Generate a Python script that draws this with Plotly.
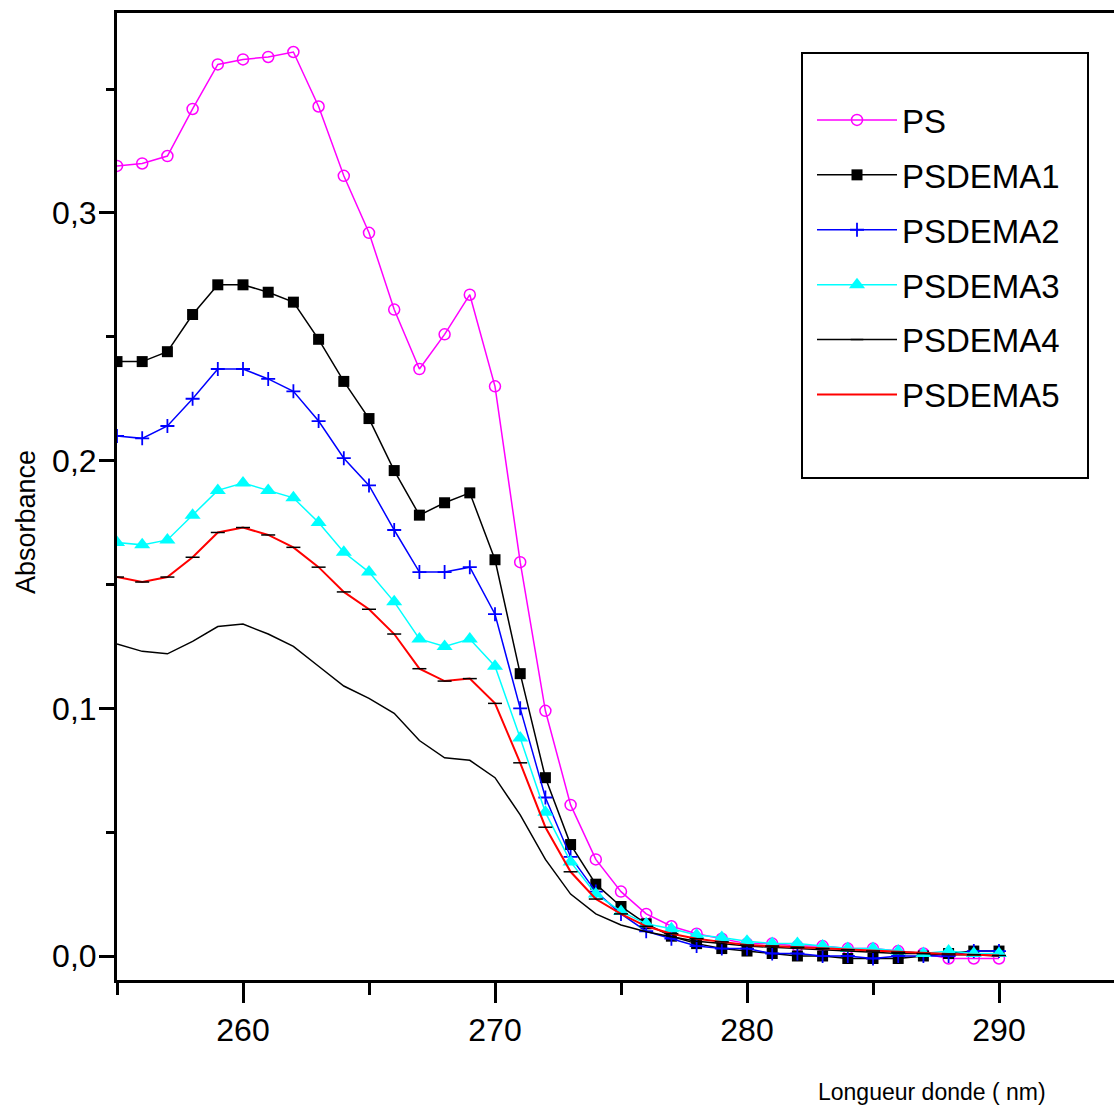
import plotly.graph_objects as go

# ---------------- data ----------------
wavelength = list(range(255, 291))

ps = [0.319, 0.320, 0.323, 0.342, 0.360, 0.362, 0.363, 0.365, 0.343, 0.315,
      0.292, 0.261, 0.237, 0.251, 0.267, 0.230, 0.159, 0.099, 0.061, 0.039,
      0.026, 0.017, 0.012, 0.009, 0.007, 0.005, 0.005, 0.004, 0.004, 0.003,
      0.003, 0.002, 0.001, -0.001, -0.001, -0.001]

psdema1 = [0.240, 0.240, 0.244, 0.259, 0.271, 0.271, 0.268, 0.264, 0.249, 0.232,
           0.217, 0.196, 0.178, 0.183, 0.187, 0.160, 0.114, 0.072, 0.045, 0.029,
           0.020, 0.013, 0.008, 0.005, 0.003, 0.002, 0.001, 0.000, 0.000, -0.001,
           -0.001, -0.001, 0.000, 0.001, 0.002, 0.002]

psdema2 = [0.210, 0.209, 0.214, 0.225, 0.237, 0.237, 0.233, 0.228, 0.216, 0.201,
           0.190, 0.172, 0.155, 0.155, 0.157, 0.138, 0.100, 0.064, 0.040, 0.026,
           0.017, 0.010, 0.007, 0.004, 0.003, 0.003, 0.001, 0.001, 0.000, 0.000,
           -0.001, 0.000, 0.000, 0.000, 0.002, 0.002]

psdema3 = [0.167, 0.166, 0.168, 0.178, 0.188, 0.191, 0.188, 0.185, 0.175, 0.163,
           0.155, 0.143, 0.128, 0.125, 0.128, 0.117, 0.088, 0.058, 0.038, 0.025,
           0.018, 0.013, 0.011, 0.0085, 0.0075, 0.006, 0.005, 0.005, 0.004, 0.003,
           0.003, 0.002, 0.001, 0.002, 0.001, 0.001]

psdema4 = [0.126, 0.123, 0.122, 0.127, 0.133, 0.134, 0.130, 0.125, 0.117, 0.109,
           0.104, 0.098, 0.087, 0.080, 0.079, 0.072, 0.057, 0.039, 0.025, 0.017,
           0.0125, 0.0098, 0.0078, 0.006, 0.005, 0.004, 0.0035, 0.003, 0.0025, 0.002,
           0.0015, 0.001, 0.001, 0.0005, 0.0005, 0.0]

psdema5 = [0.153, 0.151, 0.153, 0.161, 0.171, 0.173, 0.170, 0.165, 0.157, 0.147,
           0.140, 0.130, 0.116, 0.111, 0.112, 0.102, 0.078, 0.052, 0.034, 0.023,
           0.017, 0.012, 0.009, 0.007, 0.0057, 0.0044, 0.004, 0.0035, 0.003, 0.0025,
           0.002, 0.0015, 0.001, 0.0008, 0.0005, 0.0002]

x_ticks = [260, 270, 280, 290]
y_ticks = [0.0, 0.1, 0.2, 0.3]

# ---------------- style ----------------
FONT = "Liberation Sans, Arial, sans-serif"
MAGENTA = "#ff00ff"
BLUE = "#0000ff"
CYAN = "#00ffff"
RED = "#ff0000"
BLACK = "#000000"

fig = go.Figure()

fig.add_trace(go.Scatter(
    x=wavelength, y=ps, name="PS", mode="lines+markers",
    line=dict(color=MAGENTA, width=1.5),
    marker=dict(symbol="circle-open", size=11, color=MAGENTA, line=dict(width=1.5, color=MAGENTA)),
    legendgroup="g1"))

fig.add_trace(go.Scatter(
    x=wavelength, y=psdema1, name="PSDEMA1", mode="lines+markers",
    line=dict(color=BLACK, width=1.5),
    marker=dict(symbol="square", size=11, color=BLACK),
    legendgroup="g2"))

fig.add_trace(go.Scatter(
    x=wavelength, y=psdema2, name="PSDEMA2", mode="lines+markers",
    line=dict(color=BLUE, width=1.5),
    marker=dict(symbol="cross-thin-open", size=10, color=BLUE, line=dict(width=1.8, color=BLUE)),
    legendgroup="g3"))

fig.add_trace(go.Scatter(
    x=wavelength, y=psdema3, name="PSDEMA3", mode="lines+markers",
    line=dict(color=CYAN, width=1.5),
    marker=dict(symbol="triangle-up", size=14, color=CYAN),
    legendgroup="g4"))

fig.add_trace(go.Scatter(
    x=wavelength, y=psdema4, name="PSDEMA4", mode="lines",
    line=dict(color=BLACK, width=1.5),
    showlegend=False, legendgroup="g5"))

# legend entry for PSDEMA4 (line with small dash symbol)
fig.add_trace(go.Scatter(
    x=[None], y=[None], name="PSDEMA4", mode="lines+markers",
    line=dict(color=BLACK, width=1.5),
    marker=dict(symbol="line-ew-open", size=9, color=BLACK, line=dict(width=1.5, color=BLACK)),
    legendgroup="g5"))

fig.add_trace(go.Scatter(
    x=wavelength, y=psdema5, name="PSDEMA5", mode="lines",
    line=dict(color=RED, width=2),
    legendgroup="g6"))

fig.add_trace(go.Scatter(
    x=wavelength, y=psdema5, name="PSDEMA5", mode="markers",
    marker=dict(symbol="line-ew-open", size=10, color=BLACK, line=dict(width=1.5, color=BLACK)),
    showlegend=False, legendgroup="g6"))

W, H = 1114, 1107
L, R, T, B = 117, 0, 13, 127
px_per_nm = 25.2
px_per_abs = 2476.7
plot_w = W - L - R
plot_h = H - T - B
x_min = 255
x_max = x_min + plot_w / px_per_nm
y_min = -(980 - 956) / px_per_abs
y_max = y_min + plot_h / px_per_abs

fig.update_layout(
    width=W, height=H,
    margin=dict(l=L, r=R, t=T, b=B, pad=0),
    paper_bgcolor="white", plot_bgcolor="white",
    separators=",.",
    font=dict(family=FONT, color=BLACK),
    showlegend=True,
    legend=dict(
        x=(812 - L) / plot_w, y=(980 - 92) / plot_h,
        xanchor="left", yanchor="top",
        bgcolor="rgba(0,0,0,0)", borderwidth=0,
        font=dict(family=FONT, size=33, color=BLACK),
        itemwidth=80, tracegroupgap=9,
        traceorder="grouped",
    ),
    xaxis=dict(
        range=[x_min, x_max], showgrid=False, zeroline=False,
        showline=True, linecolor=BLACK, linewidth=3, mirror=True,
        tickmode="array", tickvals=x_ticks,
        ticks="outside", ticklen=20, tickwidth=2.5, tickcolor=BLACK,
        tickfont=dict(family=FONT, size=32, color=BLACK),
        ticklabelstandoff=0,
        minor=dict(tickmode="linear", tick0=255, dtick=5, ticks="outside",
                   ticklen=12, tickwidth=2.5, tickcolor=BLACK, showgrid=False),
    ),
    yaxis=dict(
        range=[y_min, y_max], showgrid=False, zeroline=False,
        showline=True, linecolor=BLACK, linewidth=3, mirror=False,
        tickmode="array", tickvals=y_ticks, tickformat=".1f",
        ticks="outside", ticklen=15, tickwidth=2.5, tickcolor=BLACK,
        tickfont=dict(family=FONT, size=32, color=BLACK),
        ticklabelstandoff=-4,
        minor=dict(tickmode="linear", tick0=0.05, dtick=0.1, ticks="outside",
                   ticklen=8, tickwidth=2.5, tickcolor=BLACK, showgrid=False),
    ),
    shapes=[dict(
        type="rect", xref="paper", yref="paper",
        x0=(802 - L) / plot_w, x1=(1088 - L) / plot_w,
        y0=(980 - 478) / plot_h, y1=(980 - 53) / plot_h,
        line=dict(color=BLACK, width=2), fillcolor="rgba(0,0,0,0)", layer="above",
    )],
    annotations=[
        dict(text="Absorbance", xref="paper", yref="paper",
             x=(26 - L) / plot_w, y=(980 - 522) / plot_h,
             xanchor="center", yanchor="middle", textangle=-90, showarrow=False,
             font=dict(family=FONT, size=27, color=BLACK)),
        dict(text="Longueur donde ( nm)", xref="paper", yref="paper",
             x=(932 - L) / plot_w, y=-(1092 - 980) / plot_h,
             xanchor="center", yanchor="middle", showarrow=False,
             font=dict(family=FONT, size=23, color=BLACK)),
    ],
)

fig.write_html("out.html")
